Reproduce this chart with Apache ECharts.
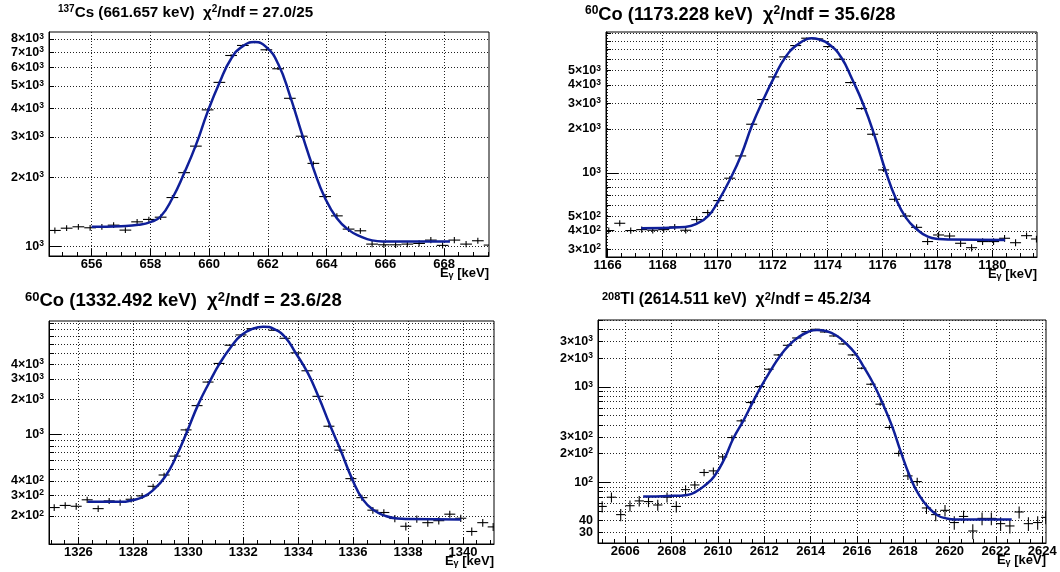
<!DOCTYPE html>
<html>
<head>
<meta charset="utf-8">
<script src="https://cdn.jsdelivr.net/npm/echarts@6/dist/echarts.min.js"></script>
<style>
  html, body { margin: 0; padding: 0; background: #fff; }
  #chart { width: 1060px; height: 572px; }
</style>
</head>
<body>
<div id="chart"></div>
<script>
// ---- 137Cs, 661.657 keV ----
var csX = [654.75, 655.15, 655.55, 655.95, 656.35, 656.75, 657.15, 657.55, 657.95, 658.35,
  658.75, 659.15, 659.55, 659.95, 660.35, 660.75, 661.15, 661.55, 661.95, 662.35,
  662.75, 663.15, 663.55, 663.95, 664.35, 664.75, 665.15, 665.55, 665.95, 666.35,
  666.75, 667.15, 667.55, 667.95, 668.35, 668.75, 669.15, 669.55];
var csCounts = [1173, 1200, 1217, 1205, 1217, 1237, 1177, 1279, 1310, 1340,
  1632, 2094, 2732, 3930, 5177, 6780, 7496, 7752, 7178, 5935,
  4413, 3018, 2298, 1648, 1358, 1189, 1169, 1023, 1016, 1016,
  1023, 1030, 1065, 1010, 1065, 1023, 1058, 1013];
var csFitX = [656.0, 657.0, 657.6, 658.0, 658.35, 658.75, 659.15, 659.55, 659.95, 660.35,
  660.75, 661.15, 661.55, 661.95, 662.35, 662.75, 663.15, 663.55, 663.95, 664.35,
  664.75, 665.15, 665.55, 665.95, 667.0, 668.2];
var csFitY = [1217, 1225, 1241, 1275, 1349, 1620, 2080, 2759, 3852, 5147,
  6561, 7448, 7752, 7374, 6238, 4547, 3123, 2186, 1620, 1327,
  1180, 1105, 1062, 1051, 1049, 1049];
var csXLabels = [656, 658, 660, 662, 664, 666, 668];
var csYTicks = [1000, 2000, 3000, 4000, 5000, 6000, 7000, 8000];
var csYLabels = [1000, 2000, 3000, 4000, 5000, 6000, 7000, 8000];

// ---- 60Co, 1173.228 keV ----
var co1X = [1166.04, 1166.44, 1166.84, 1167.24, 1167.64, 1168.04, 1168.44, 1168.84, 1169.24, 1169.64,
  1170.04, 1170.44, 1170.84, 1171.24, 1171.64, 1172.04, 1172.44, 1172.84, 1173.24, 1173.64,
  1174.04, 1174.44, 1174.84, 1175.24, 1175.64, 1176.04, 1176.44, 1176.84, 1177.24, 1177.64,
  1178.04, 1178.44, 1178.84, 1179.24, 1179.64, 1180.04, 1180.44, 1180.84, 1181.24, 1181.6];
var co1Counts = [402, 451, 402, 408, 404, 408, 426, 404, 478, 534,
  645, 918, 1304, 2149, 3171, 4532, 6215, 7430, 8342, 8254,
  7313, 5990, 4146, 2751, 1835, 1046, 658, 506, 423, 338,
  375, 369, 329, 307, 338, 338, 356, 332, 371, 352];
var co1FitX = [1167.22, 1168.82, 1169.27, 1169.67, 1170.0, 1170.46, 1170.86, 1171.25, 1171.67, 1172.07,
  1172.46, 1172.86, 1173.27, 1173.43, 1173.67, 1174.11, 1174.5, 1174.88, 1175.31, 1175.71,
  1176.12, 1176.48, 1176.85, 1177.25, 1177.65, 1178.04, 1178.46, 1180.46];
var co1FitY = [417, 426, 451, 509, 628, 907, 1325, 2104, 3188, 4557,
  6150, 7430, 8254, 8342, 8211, 7430, 6150, 4439, 2914, 1797,
  1019, 669, 493, 410, 365, 352, 349, 347];
var co1XLabels = [1166, 1168, 1170, 1172, 1174, 1176, 1178, 1180];
var co1YTicks = [300, 400, 500, 600, 700, 800, 900, 1000, 2000, 3000, 4000, 5000, 6000, 7000, 8000, 9000];
var co1YLabels = [300, 400, 500, 1000, 2000, 3000, 4000, 5000];

// ---- 60Co, 1332.492 keV ----
var co2X = [1325.12, 1325.52, 1325.92, 1326.32, 1326.72, 1327.12, 1327.52, 1327.92, 1328.32, 1328.72,
  1329.12, 1329.52, 1329.92, 1330.32, 1330.72, 1331.12, 1331.52, 1331.92, 1332.32, 1332.72,
  1333.12, 1333.52, 1333.92, 1334.32, 1334.72, 1335.12, 1335.52, 1335.92, 1336.32, 1336.72,
  1337.12, 1337.52, 1337.92, 1338.32, 1338.72, 1339.12, 1339.52, 1339.92, 1340.32, 1340.72, 1341.1];
var co2Counts = [236, 246, 242, 275, 231, 269, 261, 278, 297, 359,
  449, 652, 1095, 1769, 2818, 4069, 5836, 7152, 8099, 8425,
  7842, 6696, 5019, 3522, 2125, 1177, 734, 418, 287, 224,
  214, 190, 163, 188, 175, 182, 207, 191, 147, 175, 161];
var co2FitX = [1326.34, 1327.58, 1327.96, 1328.36, 1328.69, 1329.15, 1329.55, 1329.98, 1330.36, 1330.76,
  1331.15, 1331.58, 1331.94, 1332.36, 1332.73, 1333.15, 1333.54, 1333.9, 1334.34, 1334.75,
  1335.15, 1335.55, 1335.96, 1336.36, 1336.79, 1337.18, 1337.61, 1338.0, 1339.92];
var co2FitY = [264, 264, 273, 291, 328, 432, 640, 1095, 1804, 2781,
  4095, 5760, 7152, 8099, 8425, 7994, 6784, 5051, 3408, 2084,
  1217, 730, 418, 276, 221, 200, 190, 188, 186];
var co2XLabels = [1326, 1328, 1330, 1332, 1334, 1336, 1338, 1340];
var co2YTicks = [200, 300, 400, 500, 600, 700, 800, 900, 1000, 2000, 3000, 4000, 5000, 6000, 7000, 8000, 9000];
var co2YLabels = [200, 300, 400, 1000, 2000, 3000, 4000];

// ---- 208Tl, 2614.511 keV ----
var tlX = [2605.0, 2605.4, 2605.8, 2606.2, 2606.6, 2607.0, 2607.4, 2607.8, 2608.2, 2608.6,
  2609.0, 2609.4, 2609.8, 2610.2, 2610.6, 2611.0, 2611.4, 2611.8, 2612.2, 2612.6,
  2613.0, 2613.4, 2613.8, 2614.2, 2614.6, 2615.0, 2615.4, 2615.8, 2616.2, 2616.6,
  2617.0, 2617.4, 2617.8, 2618.2, 2618.6, 2619.0, 2619.4, 2619.8, 2620.2, 2620.6,
  2621.0, 2621.4, 2621.8, 2622.2, 2622.6, 2623.0, 2623.4, 2623.8, 2624.15];
var tlCounts = [56, 70, 46, 57, 64, 63, 58, 70, 56, 84,
  94, 127, 132, 185, 295, 441, 686, 1008, 1530, 2160,
  2726, 3252, 3788, 4007, 3757, 3413, 2815, 2160, 1567, 1066,
  659, 376, 201, 117, 102, 54, 46, 51, 38, 44,
  31, 42, 42, 37, 35, 49, 37, 38, 43];
var tlFitX = [2606.77, 2607.86, 2608.67, 2609.05, 2609.46, 2609.84, 2610.27, 2610.66, 2611.09, 2611.48,
  2611.86, 2612.28, 2612.68, 2613.08, 2613.47, 2613.88, 2614.27, 2614.7, 2615.09, 2615.49,
  2615.93, 2616.31, 2616.72, 2617.09, 2617.51, 2617.9, 2618.3, 2618.69, 2619.1, 2619.49,
  2619.86, 2620.25, 2622.68];
var tlFitY = [71, 72, 74, 80, 94, 116, 175, 288, 441, 675,
  1008, 1494, 2109, 2748, 3305, 3757, 3943, 3818, 3468, 2907,
  2230, 1593, 1066, 686, 391, 206, 113, 73, 54, 45,
  42, 41, 41];
var tlXLabels = [2606, 2608, 2610, 2612, 2614, 2616, 2618, 2620, 2622, 2624];
var tlYTicks = [30, 40, 50, 60, 70, 80, 90, 100, 200, 300, 400, 500, 600, 700, 800, 900,
  1000, 2000, 3000, 4000, 5000];
var tlYLabels = [30, 40, 100, 200, 300, 1000, 2000, 3000];

var FONT = 'Liberation Sans, Arial, Helvetica, sans-serif';
var FIT_COLOR = '#0f1f99';
var HALF_BIN = 0.2;

var panels = [
  { title: '{s|137}Cs (661.657 keV)  χ{s|2}/ndf = 27.0/25', size: 15.2, left: 58, top: 4,
    grid: { left: 49, top: 32, width: 440, height: 224 }, xr: [654.55, 669.53], yr: [908, 8580],
    x: csX, y: csCounts, fx: csFitX, fy: csFitY, xl: csXLabels, yt: csYTicks, yl: csYLabels, yd: [1000] },
  { title: '{s|60}Co (1173.228 keV)  χ{s|2}/ndf = 35.6/28', size: 18.3, left: 585, top: 5,
    grid: { left: 606, top: 32, width: 431, height: 225 }, xr: [1165.94, 1181.62], yr: [265, 9200],
    x: co1X, y: co1Counts, fx: co1FitX, fy: co1FitY, xl: co1XLabels, yt: co1YTicks, yl: co1YLabels, yd: [1000] },
  { title: '{s|60}Co (1332.492 keV)  χ{s|2}/ndf = 23.6/28', size: 18.5, left: 25, top: 291,
    grid: { left: 49, top: 321, width: 445, height: 223 }, xr: [1324.93, 1341.13], yr: [114.8, 9420],
    x: co2X, y: co2Counts, fx: co2FitX, fy: co2FitY, xl: co2XLabels, yt: co2YTicks, yl: co2YLabels, yd: [1000] },
  { title: '{s|208}Tl (2614.511 keV)  χ{s|2}/ndf = 45.2/34', size: 15.8, left: 602, top: 291,
    grid: { left: 598, top: 320, width: 448, height: 223 }, xr: [2604.82, 2624.16], yr: [23.2, 5015],
    x: tlX, y: tlCounts, fx: tlFitX, fy: tlFitY, xl: tlXLabels, yt: tlYTicks, yl: tlYLabels, yd: [100, 1000] }
];

// ROOT style log labels: 30, 10^2, 2x10^3 ...
function rootLogLabel(v) {
  if (v < 100) return '{b|' + v + '}';
  var n = Math.floor(Math.log10(v) + 1e-9);
  var m = Math.round(v / Math.pow(10, n));
  return '{b|' + (m === 1 ? '' : m + '×') + '10}{s|' + n + '}';
}

function halfSteps(a, b) {
  var out = [];
  for (var v = Math.ceil(a * 2) / 2; v <= b; v += 0.5) out.push(v);
  return out;
}

function renderCross(params, api) {
  var x = api.value(0), y = api.value(1), e = Math.sqrt(y);
  var l = api.coord([x - HALF_BIN, y]), r = api.coord([x + HALF_BIN, y]);
  var t = api.coord([x, y + e]), b = api.coord([x, y - e]);
  var st = { stroke: '#000', lineWidth: 1.1 };
  return {
    type: 'group',
    children: [
      { type: 'line', shape: { x1: l[0], y1: l[1], x2: r[0], y2: r[1] }, style: st },
      { type: 'line', shape: { x1: t[0], y1: t[1], x2: b[0], y2: b[1] }, style: st }
    ]
  };
}

// y labels are split over the two overlaid y axes so close neighbours never get culled
function yLabelStyle(values) {
  return {
    customValues: values, margin: 5, formatter: rootLogLabel, hideOverlap: false,
    showMinLabel: true, showMaxLabel: true,
    rich: {
      b: { fontFamily: FONT, fontWeight: 'bold', fontSize: 12.5, color: '#000', lineHeight: 14 },
      s: { fontFamily: FONT, fontWeight: 'bold', fontSize: 8.5, color: '#000', verticalAlign: 'top', lineHeight: 9 }
    }
  };
}

var option = { animation: false, backgroundColor: '#fff', title: [], grid: [], xAxis: [], yAxis: [], series: [] };

panels.forEach(function (p, i) {
  var supSize = Math.round(p.size * 0.68);
  option.title.push({
    text: p.title, left: p.left, top: p.top, padding: 0,
    textStyle: {
      fontFamily: FONT, fontWeight: 'bold', fontSize: p.size, color: '#000', lineHeight: p.size + 2,
      rich: { s: { fontFamily: FONT, fontWeight: 'bold', fontSize: supSize, color: '#000',
        verticalAlign: 'top', lineHeight: supSize } }
    }
  });
  option.title.push({
    text: 'E{g|γ} [keV]', right: 1060 - (p.grid.left + p.grid.width), top: p.grid.top + p.grid.height + 10,
    padding: 0,
    textStyle: {
      fontFamily: FONT, fontWeight: 'bold', fontSize: 13, color: '#000', lineHeight: 14,
      rich: { g: { fontFamily: FONT, fontWeight: 'bold', fontSize: 9, color: '#000', verticalAlign: 'bottom', lineHeight: 9 } }
    }
  });
  option.grid.push(Object.assign({ show: true, borderColor: '#000', borderWidth: 1, containLabel: false, outerBoundsMode: 'none' }, p.grid));

  option.xAxis.push({
    type: 'value', gridIndex: i, position: 'bottom', min: p.xr[0], max: p.xr[1],
    axisLine: { show: true, lineStyle: { color: '#000', width: 1 } },
    axisTick: { show: true, inside: true, length: 7, customValues: p.xl, lineStyle: { color: '#000' } },
    axisLabel: { customValues: p.xl, fontFamily: FONT, fontWeight: 'bold', fontSize: 13, color: '#000', margin: 2,
      showMinLabel: true, showMaxLabel: true, formatter: function (v) { return String(v); } },
    splitLine: { show: true, lineStyle: { color: '#222', width: 1, type: [1, 2] } },
    minorTick: { show: false }
  });
  option.xAxis.push({
    type: 'value', gridIndex: i, position: 'bottom', min: p.xr[0], max: p.xr[1],
    axisLine: { show: false },
    axisTick: { show: true, inside: true, length: 4, customValues: halfSteps(p.xr[0], p.xr[1]), lineStyle: { color: '#000' } },
    axisLabel: { show: false }, splitLine: { show: false }
  });
  var evenLabels = p.yl.filter(function (v, k) { return k % 2 === 0; });
  var oddLabels = p.yl.filter(function (v, k) { return k % 2 === 1; });
  option.yAxis.push({
    type: 'log', logBase: 10, gridIndex: i, position: 'left', min: p.yr[0], max: p.yr[1],
    axisLine: { show: true, lineStyle: { color: '#000', width: 1 } },
    axisTick: { show: true, inside: true, length: 5, customValues: p.yt, lineStyle: { color: '#000' } },
    axisLabel: yLabelStyle(evenLabels),
    splitLine: { show: true, lineStyle: { color: '#222', width: 1, type: [1, 2] } },
    minorTick: { show: false }
  });
  option.yAxis.push({
    type: 'log', logBase: 10, gridIndex: i, position: 'left', min: p.yr[0], max: p.yr[1],
    axisLine: { show: false },
    axisTick: { show: true, inside: true, length: 12, customValues: p.yd, lineStyle: { color: '#000' } },
    axisLabel: yLabelStyle(oddLabels), splitLine: { show: false }
  });

  option.series.push({
    type: 'custom', xAxisIndex: 2 * i, yAxisIndex: 2 * i, clip: true,
    renderItem: renderCross, encode: { x: 0, y: 1 },
    data: p.x.map(function (x, k) { return [x, p.y[k]]; })
  });
  option.series.push({
    type: 'line', xAxisIndex: 2 * i, yAxisIndex: 2 * i, showSymbol: false, smooth: 0.5,
    lineStyle: { color: FIT_COLOR, width: 2.5 }, itemStyle: { color: FIT_COLOR }, z: 3,
    data: p.fx.map(function (x, k) { return [x, p.fy[k]]; })
  });
});

var chart = echarts.init(document.getElementById('chart'));
chart.setOption(option);
</script>
</body>
</html>
